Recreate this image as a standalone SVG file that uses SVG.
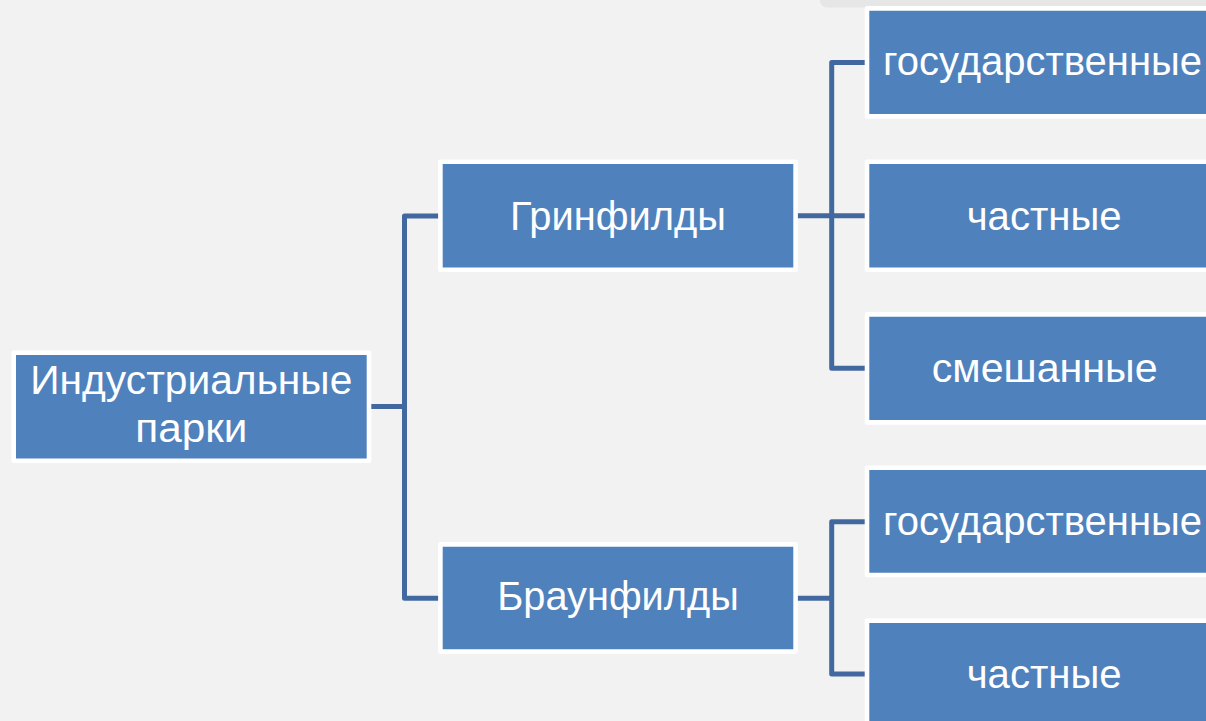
<svg xmlns="http://www.w3.org/2000/svg" width="1206" height="721" viewBox="0 0 1206 721">
<style>
.node rect{fill:#4f81bd;stroke:#ffffff;stroke-width:4.6;stroke-linejoin:round}
.node text{fill:#ffffff;font-family:"Liberation Sans",Arial,sans-serif;font-size:40.5px;text-anchor:middle}
.conn path{fill:none;stroke:#41699f;stroke-width:5;stroke-linejoin:round}
</style>
<rect x="0" y="0" width="1206" height="721" fill="#f2f2f2"/>
<rect x="820" y="-12" width="400" height="19.5" rx="7" fill="#e6e6e6"/>
<g class="conn" id="connectors">
<path d="M369 406.5 H404.5 V216 H440"/>
<path d="M404.5 406.5 V598.3 H440"/>
<path d="M795 215.7 H866"/>
<path d="M866 62.5 H831.7 V368.3 H866"/>
<path d="M795 598.3 H831.7"/>
<path d="M866 521.8 H831.7 V674 H866"/>
</g>
<g class="node" id="root">
<rect x="13.7" y="352.7" width="355.3" height="108"/>
<text x="191.3" y="394" textLength="322" lengthAdjust="spacingAndGlyphs">Индустриальные</text>
<text x="191.3" y="441.7" textLength="112" lengthAdjust="spacingAndGlyphs">парки</text>
</g>
<g class="node" id="greenfields">
<rect x="440.4" y="161.7" width="355.2" height="108"/>
<text x="618" y="230" textLength="216" lengthAdjust="spacingAndGlyphs">Гринфилды</text>
</g>
<g class="node" id="brownfields">
<rect x="440.4" y="544.4" width="355.2" height="107.2"/>
<text x="618" y="610" textLength="241.6" lengthAdjust="spacingAndGlyphs">Браунфилды</text>
</g>
<g class="node" id="g-state">
<rect x="867" y="8.4" width="355" height="108"/>
<text x="1042.5" y="75" textLength="319" lengthAdjust="spacingAndGlyphs">государственные</text>
</g>
<g class="node" id="g-private">
<rect x="867" y="161.7" width="355" height="108"/>
<text x="1044.2" y="230" textLength="155" lengthAdjust="spacingAndGlyphs">частные</text>
</g>
<g class="node" id="g-mixed">
<rect x="867" y="314.4" width="355" height="108"/>
<text x="1044.7" y="381.7" textLength="226" lengthAdjust="spacingAndGlyphs">смешанные</text>
</g>
<g class="node" id="b-state">
<rect x="867" y="467.7" width="355" height="107.3"/>
<text x="1042.5" y="535" textLength="319" lengthAdjust="spacingAndGlyphs">государственные</text>
</g>
<g class="node" id="b-private">
<rect x="867" y="620.7" width="355" height="108"/>
<text x="1044.2" y="688" textLength="155" lengthAdjust="spacingAndGlyphs">частные</text>
</g>
</svg>
